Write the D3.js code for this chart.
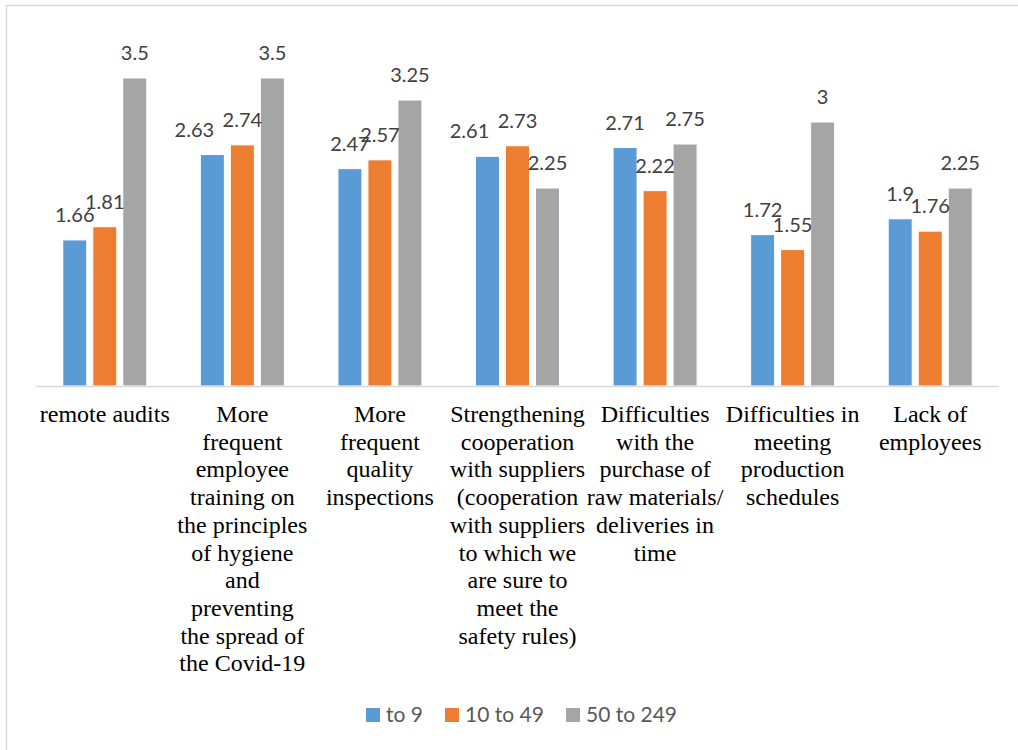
<!DOCTYPE html>
<html>
<head>
<meta charset="utf-8">
<script src="https://cdn.jsdelivr.net/npm/d3@7"></script>
<style>
  body { margin: 0; background: #fff; }
  .data-label { font-family: Lato, 'Open Sans', sans-serif; font-size: 20px; fill: #404040; }
  .cat-label { font-family: 'Liberation Serif', 'Times New Roman', serif; font-size: 24px; fill: #000; }
  .legend text { font-family: Lato, 'Open Sans', sans-serif; font-size: 21px; fill: #595959; }
</style>
</head>
<body>
<div id="vis"></div>
<script>
const categories = [
  ['remote audits'],
  ['More', 'frequent', 'employee', 'training on', 'the principles', 'of hygiene', 'and', 'preventing', 'the spread of', 'the Covid-19'],
  ['More', 'frequent', 'quality', 'inspections'],
  ['Strengthening', 'cooperation', 'with suppliers', '(cooperation', 'with suppliers', 'to which we', 'are sure to', 'meet the', 'safety rules)'],
  ['Difficulties', 'with the', 'purchase of', 'raw materials/', 'deliveries in', 'time'],
  ['Difficulties in', 'meeting', 'production', 'schedules'],
  ['Lack of', 'employees']
]
const seriesNames = ['to 9', '10 to 49', '50 to 249']
const to9 = [1.66, 2.63, 2.47, 2.61, 2.71, 1.72, 1.9]
const to49 = [1.81, 2.74, 2.57, 2.73, 2.22, 1.55, 1.76]
const to249 = [3.5, 3.5, 3.25, 2.25, 2.75, 3, 2.25]
const colors = ['#5B9BD5', '#ED7D31', '#A5A5A5']

// a couple of labels were dragged sideways in the original chart
const labelNudge = { '1-0': -18, '3-0': -18 }

const width = 1018
const height = 750
const margin = { top: 34, left: 36, right: 19, bottom: 364 }
const baseY = height - margin.bottom

const svg = d3.select('#vis').append('svg')
  .attr('width', width).attr('height', height)

// chart frame (right/bottom run off the picture)
svg.append('rect')
  .attr('x', 6.5).attr('y', 5.5)
  .attr('width', 1100).attr('height', 900)
  .attr('fill', 'none').attr('stroke', '#D9D9D9').attr('stroke-width', 1.5)

const series = [to9, to49, to249]
const idx = d3.range(categories.length)

const x0 = d3.scaleBand()
  .domain(idx)
  .range([margin.left, width - margin.right])

const x1 = d3.scaleBand()
  .domain(d3.range(series.length))
  .range([(x0.bandwidth() - 84) / 2, (x0.bandwidth() + 84) / 2])
  .paddingInner(0.2)

const y = d3.scaleLinear()
  .domain([0, 4])
  .range([baseY, margin.top])

const groups = svg.append('g').selectAll('g')
  .data(idx)
  .join('g')
  .attr('transform', (i) => `translate(${x0(i)},0)`)

groups.selectAll('rect')
  .data((i) => series.map((s, k) => ({ i, k, v: s[i] })))
  .join('rect')
  .attr('x', (d) => x1(d.k))
  .attr('y', (d) => y(d.v))
  .attr('width', x1.bandwidth())
  .attr('height', (d) => baseY - y(d.v))
  .attr('fill', (d) => colors[d.k])
  .attr('stroke', '#fff')
  .attr('stroke-width', 1)

// baseline
svg.append('line')
  .attr('x1', margin.left).attr('x2', width - margin.right)
  .attr('y1', baseY + 0.5).attr('y2', baseY + 0.5)
  .attr('stroke', '#D9D9D9').attr('stroke-width', 1.5)

groups.selectAll('text.data-label')
  .data((i) => series.map((s, k) => ({ i, k, v: s[i] })))
  .join('text')
  .attr('class', 'data-label')
  .attr('x', (d) => x1(d.k) + x1.bandwidth() / 2 + (labelNudge[`${d.i}-${d.k}`] || 0))
  .attr('y', (d) => y(d.v) - 18)
  .attr('text-anchor', 'middle')
  .text((d) => d.v)

// category labels
svg.append('g').selectAll('text')
  .data(idx)
  .join('text')
  .attr('class', 'cat-label')
  .attr('text-anchor', 'middle')
  .attr('x', (i) => x0(i) + x0.bandwidth() / 2)
  .attr('y', 422)
  .selectAll('tspan')
  .data((i) => categories[i].map((t) => ({ i, t })))
  .join('tspan')
  .attr('x', (d) => x0(d.i) + x0.bandwidth() / 2)
  .attr('dy', (d, j) => j === 0 ? 0 : 27.7)
  .text((d) => d.t)

// legend
const legendX = [366, 445, 566]
const legend = svg.append('g').attr('class', 'legend')
seriesNames.forEach((name, k) => {
  legend.append('rect')
    .attr('x', legendX[k]).attr('y', 708)
    .attr('width', 14).attr('height', 14)
    .attr('fill', colors[k])
  legend.append('text')
    .attr('x', legendX[k] + 20).attr('y', 722)
    .text(name)
})
</script>
</body>
</html>
